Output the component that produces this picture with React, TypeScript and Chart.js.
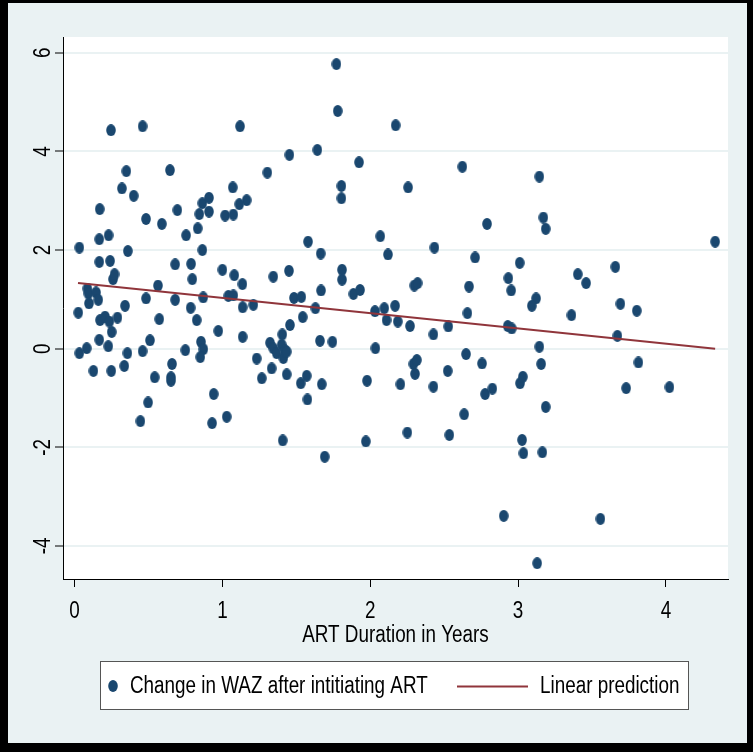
import React, { useEffect, useRef } from "react";
import { Chart, registerables } from "chart.js";

Chart.register(...registerables);

// ART duration (years) for each child
const artYears = [
  0.246, 0.46, 0.35, 0.645, 0.32, 0.4, 0.17, 0.483, 0.59, 0.695,
  0.864, 0.909, 0.844, 0.909, 1.018, 0.833, 0.754, 0.864, 0.032, 0.167,
  0.23, 0.36, 0.167, 0.24, 0.68, 0.788, 1.0, 0.26, 0.27, 0.796,
  0.564, 0.086, 0.093, 0.145, 0.16, 0.097, 0.483, 0.68, 0.87, 1.04,
  1.074, 1.07, 1.771, 1.78, 1.119, 1.453, 1.642, 1.924, 1.304, 1.805,
  1.805, 1.164, 1.114, 1.074, 1.579, 1.665, 2.068, 2.12, 1.08, 1.135,
  1.344, 1.45, 1.809, 1.809, 1.667, 1.886, 1.931, 1.209, 1.484, 1.534,
  2.172, 2.623, 3.144, 2.256, 3.171, 3.187, 2.79, 2.434, 2.709, 3.011,
  2.298, 2.32, 2.668, 2.934, 2.953, 3.122, 4.333, 3.658, 3.404, 3.46,
  0.025, 0.341, 0.785, 0.172, 0.206, 0.235, 0.251, 0.29, 0.573, 0.826,
  0.972, 0.167, 0.228, 0.082, 0.032, 0.51, 0.46, 0.357, 0.749, 0.855,
  0.871, 0.85, 0.127, 0.248, 0.336, 0.659, 0.542, 0.652, 0.652, 0.497,
  0.445, 0.941, 0.93, 1.029, 1.137, 1.629, 1.543, 1.457, 1.405, 2.032,
  2.095, 2.11, 1.137, 1.322, 1.344, 1.367, 1.401, 1.423, 1.412, 1.435,
  1.232, 1.333, 1.266, 1.435, 1.53, 1.57, 1.672, 1.575, 1.66, 1.744,
  2.035, 1.978, 1.408, 1.692, 1.97, 2.168, 2.186, 2.269, 2.427, 2.528,
  2.657, 2.93, 2.957, 3.144, 3.156, 2.648, 2.756, 2.292, 2.315, 2.303,
  2.524, 2.204, 2.427, 2.777, 2.826, 3.013, 3.032, 3.187, 2.635, 2.251,
  2.535, 3.027, 3.036, 3.164, 2.903, 3.129, 3.093, 3.692, 3.803, 3.361,
  3.672, 3.814, 3.731, 4.024, 3.557,
];

// Change in WAZ after initiating ART
const wazChange = [
  4.43, 4.51, 3.6, 3.62, 3.25, 3.1, 2.83, 2.63, 2.53, 2.81,
  2.95, 3.06, 2.73, 2.78, 2.7, 2.44, 2.3, 2.0, 2.05, 2.22,
  2.3, 1.98, 1.76, 1.78, 1.71, 1.72, 1.6, 1.41, 1.51, 1.41,
  1.28, 1.22, 1.12, 1.14, 0.99, 0.92, 1.02, 0.99, 1.04, 1.07,
  1.08, 3.27, 5.77, 4.82, 4.51, 3.93, 4.03, 3.78, 3.57, 3.3,
  3.05, 3.01, 2.93, 2.72, 2.17, 1.93, 2.28, 1.91, 1.49, 1.31,
  1.46, 1.58, 1.6, 1.4, 1.18, 1.11, 1.19, 0.89, 1.03, 1.05,
  4.53, 3.69, 3.49, 3.27, 2.66, 2.43, 2.53, 2.05, 1.85, 1.74,
  1.28, 1.33, 1.26, 1.43, 1.18, 1.02, 2.17, 1.66, 1.51, 1.33,
  0.73, 0.87, 0.83, 0.58, 0.65, 0.55, 0.34, 0.63, 0.6, 0.58,
  0.36, 0.18, 0.05, 0.01, -0.09, 0.17, -0.05, -0.09, -0.03, 0.14,
  -0.01, -0.17, -0.45, -0.45, -0.35, -0.31, -0.58, -0.58, -0.65, -1.09,
  -1.47, -0.92, -1.51, -1.38, 0.84, 0.82, 0.64, 0.48, 0.29, 0.76,
  0.82, 0.58, 0.24, 0.12, 0.01, -0.09, 0.08, -0.03, -0.19, -0.06,
  -0.2, -0.4, -0.6, -0.52, -0.7, -0.55, -0.72, -1.03, 0.16, 0.14,
  0.01, -0.65, -1.86, -2.19, -1.88, 0.87, 0.55, 0.46, 0.29, 0.45,
  0.72, 0.46, 0.41, 0.04, -0.31, -0.11, -0.3, -0.31, -0.23, -0.51,
  -0.45, -0.72, -0.77, -0.92, -0.81, -0.7, -0.57, -1.18, -1.33, -1.7,
  -1.75, -1.85, -2.12, -2.1, -3.39, -4.35, 0.87, 0.91, 0.77, 0.68,
  0.26, -0.28, -0.8, -0.78, -3.45,
];

// Linear prediction (fitted line end points)
const fitX = [0.023, 4.333];
const fitY = [1.33, 0.0];

const xTicks = [0, 1, 2, 3, 4];
const yTicks = [-4, -2, 0, 2, 4, 6];
const xTitle = "ART Duration in Years";
const legendLabels = ["Change in WAZ after intitiating ART", "Linear prediction"];

const NAVY = "#1a476f";
const MAROON = "#90353b";
const BG = "#eaf2f3";
const FONT = '"Liberation Sans", Arial, "DejaVu Sans", sans-serif';
const NARROW = 0.82;

function makeDot(): HTMLCanvasElement {
  const c = document.createElement("canvas");
  c.width = 10;
  c.height = 12;
  const g = c.getContext("2d")!;
  g.fillStyle = NAVY;
  g.beginPath();
  g.ellipse(5, 6, 4.8, 5.9, 0, 0, Math.PI * 2);
  g.fill();
  return c;
}

function narrowText(
  ctx: CanvasRenderingContext2D,
  text: string,
  x: number,
  y: number,
  size: number,
  align: CanvasTextAlign,
  rotate = 0
) {
  ctx.save();
  ctx.translate(x, y);
  if (rotate) ctx.rotate(rotate);
  ctx.scale(NARROW, 1);
  ctx.font = `${size}px ${FONT}`;
  ctx.textAlign = align;
  ctx.textBaseline = "alphabetic";
  ctx.fillStyle = "#000";
  ctx.fillText(text, 0, 0);
  ctx.restore();
}

let dot: HTMLCanvasElement;

const framePlugin = {
  id: "stataFrame",
  beforeDraw(chart: any) {
    const { ctx, width, height, chartArea: a } = chart;
    ctx.save();
    ctx.fillStyle = "#ffffff";
    ctx.fillRect(0, 0, width, height);
    ctx.fillStyle = "#000000";
    ctx.fillRect(0, 0, 753, 752);
    ctx.fillStyle = BG;
    ctx.fillRect(8, 3, 747 - 8, 743 - 3);
    ctx.fillStyle = "#ffffff";
    ctx.fillRect(a.left, a.top, a.right - a.left, a.bottom - a.top);
    ctx.restore();
  },
  afterDraw(chart: any) {
    const { ctx, chartArea: a } = chart;
    const xs = chart.scales.x;
    const ys = chart.scales.y;
    // y tick labels (rotated, as in Stata)
    for (const v of yTicks) {
      narrowText(ctx, String(v), 50, ys.getPixelForValue(v), 23, "center", -Math.PI / 2);
    }
    // x tick labels
    for (const v of xTicks) {
      narrowText(ctx, String(v), xs.getPixelForValue(v), 618, 23, "center");
    }
    // x axis title
    narrowText(ctx, xTitle, (a.left + a.right) / 2, 641.5, 23, "center");

    // legend box
    ctx.save();
    ctx.fillStyle = "#fff";
    ctx.fillRect(101, 662, 587, 47);
    ctx.strokeStyle = "#555";
    ctx.lineWidth = 1;
    ctx.strokeRect(100.5, 661.5, 588, 48);
    const ly = 686;
    ctx.drawImage(dot, 113 - 5, ly - 6);
    ctx.strokeStyle = MAROON;
    ctx.lineWidth = 2;
    ctx.beginPath();
    ctx.moveTo(457, ly + 0.5);
    ctx.lineTo(528, ly + 0.5);
    ctx.stroke();
    ctx.restore();
    narrowText(ctx, legendLabels[0], 130, 693, 23, "left");
    narrowText(ctx, legendLabels[1], 540, 693, 23, "left");
  },
};

export default function App() {
  const ref = useRef<HTMLCanvasElement | null>(null);
  useEffect(() => {
    if (!ref.current) return;
    dot = makeDot();
    const scatterPts = artYears.map((x, i) => ({ x, y: wazChange[i] }));
    const fitPts = fitX.map((x, i) => ({ x, y: fitY[i] }));
    const chart = new Chart(ref.current, {
      type: "scatter",
      data: {
        datasets: [
          {
            label: legendLabels[1],
            data: fitPts,
            showLine: true,
            borderColor: MAROON,
            borderWidth: 2,
            pointRadius: 0,
            order: 0,
          },
          {
            label: legendLabels[0],
            data: scatterPts,
            pointStyle: dot,
            pointRadius: 5,
            backgroundColor: NAVY,
            borderWidth: 0,
            order: 1,
          },
        ],
      },
      plugins: [framePlugin],
      options: {
        animation: false,
        responsive: false,
        devicePixelRatio: 1,
        layout: { padding: { left: 10, top: 37, right: 27, bottom: 109 } },
        plugins: { legend: { display: false }, tooltip: { enabled: false } },
        scales: {
          x: {
            type: "linear",
            min: -0.0785,
            max: 4.42,
            afterBuildTicks: (s: any) => {
              s.ticks = xTicks.map((v) => ({ value: v }));
            },
            afterFit: (s: any) => {
              s.height = 67;
            },
            grid: {
              drawOnChartArea: false,
              drawTicks: true,
              tickLength: 8,
              tickColor: "#000",
              tickWidth: 1,
            },
            border: { display: true, color: "#000", width: 1 },
            ticks: { display: false },
          },
          y: {
            type: "linear",
            min: -4.67,
            max: 6.32,
            afterBuildTicks: (s: any) => {
              s.ticks = yTicks.map((v) => ({ value: v }));
            },
            afterFit: (s: any) => {
              s.width = 53;
            },
            grid: {
              color: BG,
              lineWidth: 2,
              drawTicks: true,
              tickLength: 8,
              tickColor: "#000",
              tickWidth: 1,
            },
            border: { display: true, color: "#000", width: 1 },
            ticks: { display: false },
          },
        },
      },
    });
    return () => chart.destroy();
  }, []);
  return (
    <div style={{ position: "absolute", left: 0, top: 0, width: 755, height: 755 }}>
      <canvas ref={ref} width={755} height={755} style={{ width: 755, height: 755 }} />
    </div>
  );
}
